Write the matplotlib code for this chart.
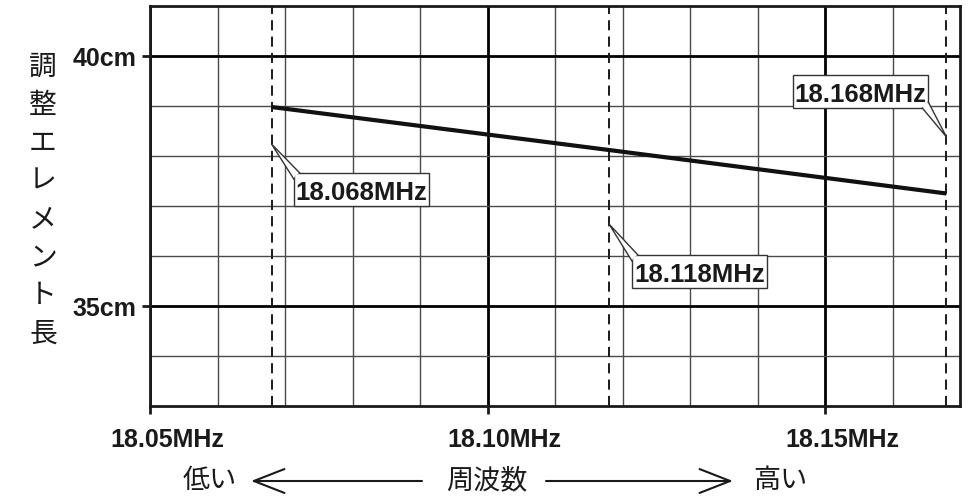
import numpy as np
import matplotlib
matplotlib.use("Agg")
import matplotlib.pyplot as plt
import matplotlib.transforms as mtransforms
from matplotlib.patches import Rectangle, Polygon, FancyArrowPatch
from matplotlib.lines import Line2D

# data
freq = [18.068, 18.118, 18.168]          # MHz
length = [38.98, 38.12, 37.25]            # cm
marks = [18.068, 18.118, 18.168]
mark_labels = ["18.068MHz", "18.118MHz", "18.168MHz"]
xticks = [18.05, 18.10, 18.15]
xtick_labels = ["18.05MHz", "18.10MHz", "18.15MHz"]
yticks = [35, 40]
ytick_labels = ["35cm", "40cm"]
ylabel_chars = list("調整エレメント長")

NUM = "Liberation Sans"
JP = ["Noto Sans CJK JP", "DejaVu Sans"]
INK = "#1a1a1a"

fig = plt.figure(figsize=(9.76, 5.01), dpi=100)
ax = fig.add_axes([150/976, 1-406/501, 810/976, 400/501])
ax.set_xlim(18.05, 18.17)
ax.set_ylim(33, 41)

# grid
ax.set_xticks(xticks)
ax.set_xticks(np.arange(18.06, 18.165, 0.01), minor=True)
ax.set_yticks(yticks)
ax.set_yticks([34, 36, 37, 38, 39], minor=True)
ax.grid(which="major", color="black", lw=2.0)
ax.grid(which="minor", color="#4a4a4a", lw=1.0)
ax.set_axisbelow(True)
for s in ax.spines.values():
    s.set_linewidth(2.0)
    s.set_color(INK)
ax.tick_params(which="major", length=6, width=2, color=INK, direction="out")
ax.tick_params(which="minor", length=0)
ax.tick_params(axis="x", pad=9.5)
ax.tick_params(axis="y", pad=4)

ax.set_xticklabels(xtick_labels, fontfamily=NUM, fontweight="bold", fontsize=18, color=INK)
ax.set_yticklabels(ytick_labels, fontfamily=NUM, fontweight="bold", fontsize=18, color=INK)
shift = mtransforms.ScaledTranslation(0.17, 0, fig.dpi_scale_trans)
for lab in ax.get_xticklabels():
    lab.set_transform(lab.get_transform() + shift)

# dashed frequency marks
for m in marks:
    ax.axvline(m, color=INK, lw=1.4, dashes=(5.2, 3.2), zorder=3)

# element length line
ax.plot(freq, length, color="#111111", lw=3.0, solid_capstyle="butt", zorder=4)

# callout boxes: (box left, box bottom, tip y, tail corner)
bw, bh = 0.020, 0.66
boxes = [
    (18.0713, 37.00, 38.24, "tl"),
    (18.1214, 35.36, 36.64, "tl"),
    (18.1453, 38.96, 38.38, "br"),
]
dx, dy = 6/6750, 6/50
for m, lab, (bx, by, ty, corner) in zip(marks, mark_labels, boxes):
    ax.add_patch(Rectangle((bx, by), bw, bh, facecolor="white",
                           edgecolor="#333333", lw=1.0, zorder=5))
    if corner == "tl":
        cx, cy = bx, by + bh
        p1 = (cx, cy - dy)
        p2 = (cx + dx, cy)
        inner = (cx + dx*0.3, cy - dy*0.3)
    else:
        cx, cy = bx + bw, by
        p1 = (cx, cy + dy)
        p2 = (cx - dx, cy)
        inner = (cx - dx*0.3, cy + dy*0.3)
    ax.add_patch(Polygon([p1, (m, ty), p2, inner], closed=True,
                         facecolor="white", edgecolor="none", zorder=6))
    ax.add_line(Line2D([p1[0], m, p2[0]], [p1[1], ty, p2[1]],
                       color="#333333", lw=1.0, zorder=6))
    ax.text(bx + bw/2, by + 0.12, lab, ha="center", va="baseline",
            fontfamily=NUM, fontweight="bold", fontsize=18.5, color=INK, zorder=7)

# vertical y label
for i, ch in enumerate(ylabel_chars):
    fig.text(43/976, 1-(66.5 + 38.1*i)/501, ch, ha="center", va="center",
             family=JP, fontsize=20, color=INK)

# bottom axis caption with arrows
yb = 1 - 481/501
fig.text(210/976, yb, "低い", ha="center", va="center", family=JP, fontsize=19.5, color=INK)
fig.text(486.5/976, yb, "周波数", ha="center", va="center", family=JP, fontsize=19.5, color=INK)
fig.text(780.5/976, yb, "高い", ha="center", va="center", family=JP, fontsize=19.5, color=INK)
for a, b in [((422/976, yb), (251/976, yb)), ((546/976, yb), (733/976, yb))]:
    fig.add_artist(FancyArrowPatch(a, b, transform=fig.transFigure,
                                   arrowstyle="->,head_length=1.1,head_width=0.43",
                                   mutation_scale=20, lw=1.5, color=INK,
                                   shrinkA=0, shrinkB=0))

fig.savefig("out.png", dpi=100)
